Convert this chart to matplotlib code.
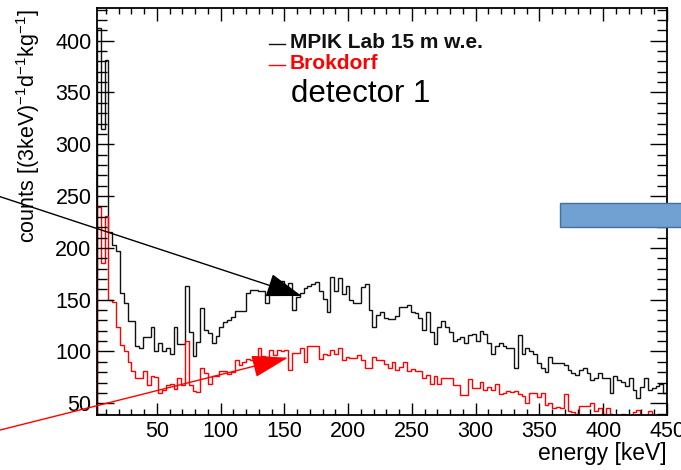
import numpy as np
import matplotlib
matplotlib.use("Agg")
import matplotlib.pyplot as plt
from matplotlib.patches import Rectangle
from matplotlib.lines import Line2D
from matplotlib.ticker import MultipleLocator

plt.rcParams['font.family'] = ['Liberation Sans', 'DejaVu Sans']
plt.rcParams['mathtext.default'] = 'regular'

W, H = 681, 470

# histogram binning: 3 keV bins, first bin starts at 3 keV
bin_start = 3
bin_width = 3

mpik_counts = [
    412, 315, 381, 215, 203, 197, 156, 147, 129, 129,
    105, 103, 114, 114, 124, 100, 108, 100, 103, 98,
    124, 107, 107, 163, 119, 96, 109, 142, 121, 118,
    108, 115, 124, 128, 130, 133, 139, 139, 139, 156,
    159, 159, 158, 158, 147, 158, 158, 163, 168, 158,
    166, 140, 153, 156, 161, 163, 165, 167, 158, 151,
    138, 172, 158, 171, 155, 163, 150, 147, 147, 162,
    165, 140, 124, 135, 138, 132, 131, 131, 134, 143,
    143, 145, 138, 137, 132, 121, 138, 119, 107, 124,
    129, 124, 119, 110, 112, 114, 108, 116, 117, 110,
    120, 117, 108, 98, 105, 108, 105, 103, 103, 84,
    116, 98, 103, 100, 98, 89, 84, 80, 95, 89,
    89, 89, 87, 82, 79, 77, 82, 84, 79, 72,
    74, 79, 74, 74, 60, 76, 72, 71, 67, 74,
    63, 55, 66, 74, 63, 65, 67, 69, 60,
]

brokdorf_counts = [
    239, 185, 231, 150, 148, 124, 106, 100, 90, 81,
    74, 74, 81, 68, 76, 75, 60, 63, 68, 69,
    64, 74, 68, 110, 68, 62, 61, 84, 79, 69,
    76, 76, 81, 81, 78, 80, 92, 87, 90, 93,
    92, 94, 103, 96, 95, 101, 97, 101, 100, 101,
    82, 99, 99, 103, 90, 105, 105, 105, 93, 98,
    97, 101, 98, 103, 92, 95, 94, 94, 97, 92,
    84, 84, 95, 92, 92, 88, 84, 90, 82, 85,
    90, 81, 83, 81, 81, 74, 77, 69, 76, 69,
    74, 74, 74, 68, 68, 58, 58, 73, 65, 65,
    71, 63, 66, 63, 69, 59, 60, 62, 61, 62,
    59, 57, 50, 60, 60, 56, 60, 48, 50, 45,
    46, 45, 59, 43, 42, 40, 47, 47, 47, 50,
    43, 45, 40, 45, 40, 37, 37, 40, 37, 38,
    42, 44, 37, 38, 43, 37, 37, 38, 37,
]

series_labels = ['MPIK Lab 15 m w.e.', 'Brokdorf']
series_colors = ['#111111', '#ff0000']

edges = bin_start + bin_width * np.arange(len(mpik_counts) + 1)


def fx(x):
    return x / W


def fy(y):
    return 1 - y / H


fig = plt.figure(figsize=(W / 100, H / 100), dpi=100)
ax = fig.add_axes([fx(97), fy(415), fx(667) - fx(97), fy(8) - fy(415)])

ax.stairs(mpik_counts, edges, color=series_colors[0], lw=1.0)
ax.stairs(brokdorf_counts, edges, color=series_colors[1], lw=1.0)

ax.set_xlim(3, 450)
ax.set_ylim(38.7, 431.5)

ax.xaxis.set_major_locator(MultipleLocator(50))
ax.xaxis.set_minor_locator(MultipleLocator(10))
ax.yaxis.set_major_locator(MultipleLocator(50))
ax.yaxis.set_minor_locator(MultipleLocator(10))

ax.tick_params(axis='both', which='both', direction='in', top=True, right=True,
               width=1, labelsize=15.5)
ax.tick_params(axis='y', which='major', length=12.2, pad=4)
ax.tick_params(axis='y', which='minor', length=7)
ax.tick_params(axis='x', which='major', length=9, pad=4.5)
ax.tick_params(axis='x', which='minor', length=4.5)
for sp in ax.spines.values():
    sp.set_linewidth(1.3)

# axis titles (ROOT style: aligned to the end of the axis)
fig.text(fx(667), fy(460), 'energy [keV]', ha='right', va='baseline', fontsize=16.5)
fig.text(fx(28), fy(9), 'counts [(3keV)$^{-1}$d$^{-1}$kg$^{-1}$]', rotation=90,
         ha='center', va='top', fontsize=15.5)

# legend
for i, (lab, col) in enumerate(zip(series_labels, series_colors)):
    ly = 43.5 + 21 * i
    fig.add_artist(Line2D([fx(269), fx(285)], [fy(ly), fy(ly)], color=col, lw=1))
    fig.text(fx(290), fy(ly + 4.5), lab, color=col, fontsize=15,
             fontweight='bold', ha='left', va='baseline')
fig.text(fx(291), fy(101.7), 'detector 1', fontsize=22.5, ha='left', va='baseline')

# arrows pasted on the slide
ax.annotate('', xy=(301.7, H - 296), xytext=(-5, H - 195),
            xycoords='figure pixels', textcoords='figure pixels', annotation_clip=False,
            arrowprops=dict(arrowstyle='-|>,head_length=2.25,head_width=0.75',
                            mutation_scale=10, lw=1, color='black',
                            shrinkA=0, shrinkB=0))
ax.annotate('', xy=(288, H - 357.7), xytext=(-5, H - 431.3),
            xycoords='figure pixels', textcoords='figure pixels', annotation_clip=False,
            arrowprops=dict(arrowstyle='-|>,head_length=2.3,head_width=0.7',
                            mutation_scale=10, lw=1, color='#ff0000',
                            shrinkA=0, shrinkB=0))

# blue box at the right edge
fig.add_artist(Rectangle((fx(560), fy(227)), fx(130), 24 / H,
                         facecolor='#71a0d2', edgecolor='#41719c', lw=1,
                         transform=fig.transFigure))

fig.savefig('out.png', dpi=100)
